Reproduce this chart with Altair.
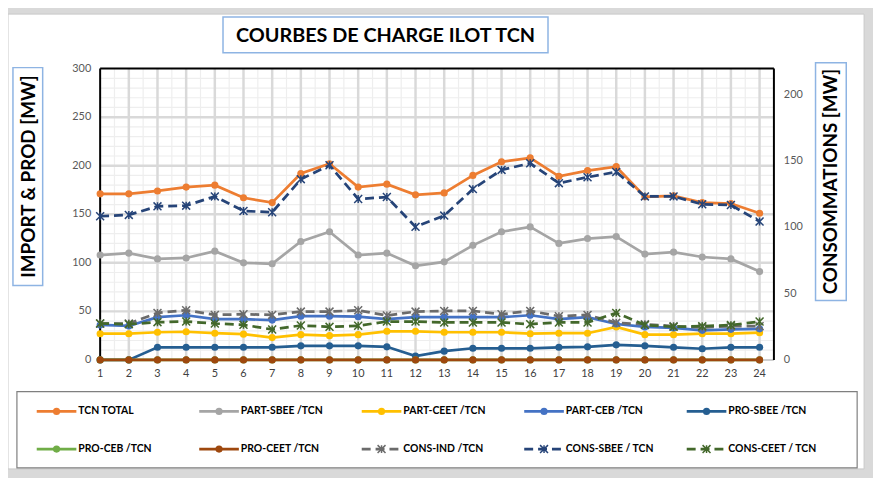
import altair as alt
import pandas as pd

# ---------------- data ----------------
hours = list(range(1, 25))

# left axis : IMPORT & PROD [MW]
tcn_total = [171, 171, 174, 178, 180, 167, 162, 192, 202, 178, 181, 170, 172, 190, 204, 208, 189, 195, 199, 168, 169, 162, 161, 151]
part_sbee = [108, 110, 104, 105, 112, 100, 99, 122, 132, 108, 110, 97, 101, 118, 132, 137, 120, 125, 127, 109, 111, 106, 104, 91]
part_ceet = [27, 27, 28.5, 29, 27.5, 26.5, 23, 26, 25, 26, 29.5, 29.5, 28.5, 28.5, 28.5, 27, 27.5, 27.5, 34, 26, 26, 27, 27, 28]
part_ceb = [36, 35, 44, 46, 42, 42, 41, 45, 45, 44.5, 42, 44, 44, 44, 44, 46, 42, 44, 37, 34, 33, 30.5, 31.5, 32]
pro_sbee = [0, 0, 13, 13, 13, 13, 13, 14.5, 14.5, 14.5, 13.5, 4, 9, 12, 12, 12, 13, 13.5, 15.5, 14.5, 13, 11.5, 13, 13]
pro_ceb = [0, 0, 0, 0, 0, 0, 0, 0, 0, 0, 0, 0, 0, 0, 0, 0, 0, 0, 0, 0, 0, 0, 0, 0]
pro_ceet = [0, 0, 0, 0, 0, 0, 0, 0, 0, 0, 0, 0, 0, 0, 0, 0, 0, 0, 0, 0, 0, 0, 0, 0]

# right axis : CONSOMMATIONS [MW]
cons_ind = [27.5, 27.5, 35.5, 37.5, 34, 34.5, 34, 36.5, 36.5, 37.5, 33.5, 36.5, 37, 37, 34.5, 37, 33, 34, 28, 27, 25.5, 24.5, 25.5, 25.5]
cons_sbee = [108.5, 109.5, 116, 116.5, 123.5, 112.5, 111.5, 136.5, 147, 121.5, 123, 100.5, 109, 129, 143.5, 148.5, 133.5, 138, 142, 123.5, 123.5, 117.5, 117, 104.5]
cons_ceet = [27.5, 27, 28.5, 29, 27.5, 26.5, 23, 26, 25, 25.8, 29, 29, 28.3, 28.3, 28.3, 27, 28.3, 28.3, 35.5, 26.3, 25, 25.5, 26.3, 29]

left_names = ["TCN TOTAL", "PART-SBEE /TCN", "PART-CEET /TCN", "PART-CEB /TCN",
              "PRO-SBEE /TCN", "PRO-CEB /TCN", "PRO-CEET /TCN"]
right_names = ["CONS-IND /TCN", "CONS-SBEE / TCN", "CONS-CEET / TCN"]
left_values = [tcn_total, part_sbee, part_ceet, part_ceb, pro_sbee, pro_ceb, pro_ceet]
right_values = [cons_ind, cons_sbee, cons_ceet]

left_ticks = [0, 50, 100, 150, 200, 250, 300]
right_ticks = [0, 50, 100, 150, 200]

colors = {
    "TCN TOTAL": "#ED7D31",
    "PART-SBEE /TCN": "#A5A5A5",
    "PART-CEET /TCN": "#FFC000",
    "PART-CEB /TCN": "#4472C4",
    "PRO-SBEE /TCN": "#255E91",
    "PRO-CEB /TCN": "#70AD47",
    "PRO-CEET /TCN": "#9E480E",
    "CONS-IND /TCN": "#6B6B6B",
    "CONS-SBEE / TCN": "#264478",
    "CONS-CEET / TCN": "#43682B",
}

title_text = "COURBES DE CHARGE ILOT TCN"
left_title = "IMPORT & PROD [MW]"
right_title = "CONSOMMATIONS [MW]"

# ---------------- build tables ----------------
def long_table(names, values):
    rows = []
    for name, vals in zip(names, values):
        for h, v in zip(hours, vals):
            rows.append({"hour": h, "value": v, "series": name})
    return pd.DataFrame(rows)

df_left = long_table(left_names, left_values)
df_right = long_table(right_names, right_values)

W, H = 680, 294
FONT = "Lato"
STAR = "M-1,-1L1,1M-1,1L1,-1M0,-1L0,1"
ONE = pd.DataFrame({"k": [0]})

xs = alt.Scale(domain=[1, 24.5], nice=False, zero=False)
yl = alt.Scale(domain=[0, 300], nice=False)
yr = alt.Scale(domain=[0, 220], nice=False)

# ---------------- grid ----------------
minor_x = [h + 0.5 for h in hours[:-1]]
major_x = hours[1:]
minor_y = [v for v in range(10, 300, 10) if v % 50]
major_y = [50, 100, 150, 200, 250]

vminor = alt.Chart(pd.DataFrame({"g": minor_x})).mark_rule(color="#EEEEEE", strokeWidth=1.2).encode(
    x=alt.X("g:Q", scale=xs, axis=None))
hminor = alt.Chart(pd.DataFrame({"g": minor_y})).mark_rule(color="#EEEEEE", strokeWidth=1.2).encode(
    y=alt.Y("g:Q", scale=yl, axis=None))
vmajor = alt.Chart(pd.DataFrame({"g": major_x})).mark_rule(color="#D9D9D9", strokeWidth=2.5).encode(
    x=alt.X("g:Q", scale=xs, axis=None))
hmajor = alt.Chart(pd.DataFrame({"g": major_y})).mark_rule(color="#D9D9D9", strokeWidth=2.5).encode(
    y=alt.Y("g:Q", scale=yl, axis=None))

border_l = alt.Chart(ONE).mark_rule(color="black", strokeWidth=2).encode(
    x=alt.value(0), y=alt.value(0), y2=alt.value(H))
border_r = alt.Chart(ONE).mark_rule(color="black", strokeWidth=2).encode(
    x=alt.value(W), y=alt.value(0), y2=alt.value(H))
border_t = alt.Chart(ONE).mark_rule(color="black", strokeWidth=2).encode(
    x=alt.value(0), x2=alt.value(W), y=alt.value(0))
border_b = alt.Chart(ONE).mark_rule(color="#BFBFBF", strokeWidth=1.5).encode(
    x=alt.value(0), x2=alt.value(W), y=alt.value(H))

# ---------------- tick labels (text placed through the scales) ----------------
xlab = alt.Chart(pd.DataFrame({"t": hours})).mark_text(
    font=FONT, fontSize=11, color="#404040", align="center", baseline="middle").encode(
    x=alt.X("t:Q", scale=xs, axis=None), y=alt.value(H + 14), text="t:Q")
ylab = alt.Chart(pd.DataFrame({"t": left_ticks})).mark_text(
    font=FONT, fontSize=11, color="#595959", align="right", baseline="middle").encode(
    y=alt.Y("t:Q", scale=yl, axis=None), x=alt.value(-9), text="t:Q")
rlab = alt.Chart(pd.DataFrame({"t": right_ticks})).mark_text(
    font=FONT, fontSize=11, color="#595959", align="left", baseline="middle").encode(
    y=alt.Y("t:Q", scale=yr, axis=None), x=alt.value(W + 10), text="t:Q")

# ---------------- series ----------------
left_layers = []
for name in left_names:
    c = colors[name]
    base = alt.Chart(df_left).transform_filter(alt.FieldEqualPredicate(field="series", equal=name))
    line = base.mark_line(color=c, strokeWidth=2.75).encode(
        x=alt.X("hour:Q", scale=xs, axis=None),
        y=alt.Y("value:Q", scale=yl, axis=None))
    pts = base.mark_point(filled=True, size=52, color=c, opacity=1, strokeWidth=0).encode(
        x=alt.X("hour:Q", scale=xs, axis=None),
        y=alt.Y("value:Q", scale=yl, axis=None))
    left_layers += [line, pts]

right_layers = []
for name in right_names:
    c = colors[name]
    base = alt.Chart(df_right).transform_filter(alt.FieldEqualPredicate(field="series", equal=name))
    line = base.mark_line(color=c, strokeWidth=2.75, strokeDash=[9, 5]).encode(
        x=alt.X("hour:Q", scale=xs, axis=None),
        y=alt.Y("value:Q", scale=yr, axis=None))
    pts = base.mark_point(shape=STAR, filled=False, size=64, strokeWidth=1.5, color=c, opacity=1).encode(
        x=alt.X("hour:Q", scale=xs, axis=None),
        y=alt.Y("value:Q", scale=yr, axis=None))
    right_layers += [line, pts]

left_group = alt.layer(vminor, hminor, vmajor, hmajor, border_b, border_l, border_r, border_t,
                       xlab, ylab, *left_layers)
right_group = alt.layer(rlab, *right_layers)

# ---------------- decorations ----------------
def box(x0, x1, y0, y1, stroke, sw=1.0, fill="white"):
    return alt.Chart(ONE).mark_rect(fill=fill, stroke=stroke, strokeWidth=sw).encode(
        x=alt.value(x0), x2=alt.value(x1), y=alt.value(y0), y2=alt.value(y1))

def label(x, y, text, size, angle=0):
    return alt.Chart(ONE).mark_text(font=FONT, fontWeight="bold", fontSize=size, color="black",
                                    align="center", baseline="middle", angle=angle).encode(
        x=alt.value(x), y=alt.value(y), text=alt.value(text))

frame = box(-93, 771, -55, 404, "#C8C8C8", 1.0)
title_box = box(124, 452, -52, -16, "#8EB4E3", 1.5)
title_lbl = label(288, -33, title_text, 20)
lbox = box(-88, -58, -1, 219, "#8EB4E3", 1.5)
llbl = label(-72, 109, left_title, 19, 270)
rbox = box(722, 753, -6, 234, "#8EB4E3", 1.5)
rlbl = label(738, 114, right_title, 19, 270)
legend_box = box(-84, 764, 326, 403, "#7F7F7F", 1.2)

# ---------------- legend ----------------
legend_order = left_names + right_names
leg_rows = []
for i, name in enumerate(legend_order):
    col, row = i % 5, i // 5
    x0 = -64 + 164 * col
    leg_rows.append({"name": name, "color": colors[name], "x0": x0, "x1": x0 + 40,
                     "xm": x0 + 20, "xt": x0 + 42, "y": 346 + 38 * row,
                     "dashed": name in right_names})
leg = pd.DataFrame(leg_rows)
leg_solid = leg[~leg["dashed"]]
leg_dash = leg[leg["dashed"]]

def lx(f):
    return alt.X(f, scale=None, axis=None)

ly = alt.Y("y:Q", scale=None, axis=None)
lc = alt.Color("color:N", scale=None, legend=None)

leg_line_s = alt.Chart(leg_solid).mark_rule(strokeWidth=2.75).encode(
    x=lx("x0:Q"), x2="x1:Q", y=ly, color=lc)
leg_line_d = alt.Chart(leg_dash).mark_rule(strokeWidth=2.75, strokeDash=[9, 5]).encode(
    x=lx("x0:Q"), x2="x1:Q", y=ly, color=lc)
leg_pt_s = alt.Chart(leg_solid).mark_point(filled=True, size=52, opacity=1, strokeWidth=0).encode(
    x=lx("xm:Q"), y=ly, color=lc)
leg_pt_d = alt.Chart(leg_dash).mark_point(shape=STAR, filled=False, size=64, strokeWidth=1.5, opacity=1).encode(
    x=lx("xm:Q"), y=ly, color=lc)
leg_txt = alt.Chart(leg).mark_text(font=FONT, fontWeight="bold", fontSize=10.5, color="black",
                                   align="left", baseline="middle").encode(
    x=lx("xt:Q"), y=ly, text="name:N")

chart = alt.layer(
    frame, legend_box, title_box, title_lbl, lbox, llbl, rbox, rlbl,
    left_group, right_group,
    leg_line_s, leg_line_d, leg_pt_s, leg_pt_d, leg_txt,
).resolve_scale(
    y="independent", color="independent"
).properties(
    width=W, height=H, background="#D9D9D9",
    padding={"left": 93, "top": 59, "right": 100, "bottom": 117},
    autosize=alt.AutoSizeParams(type="none"),
).configure_view(stroke=None)

chart.save("out.html", embed_options={"renderer": "svg", "actions": False})
